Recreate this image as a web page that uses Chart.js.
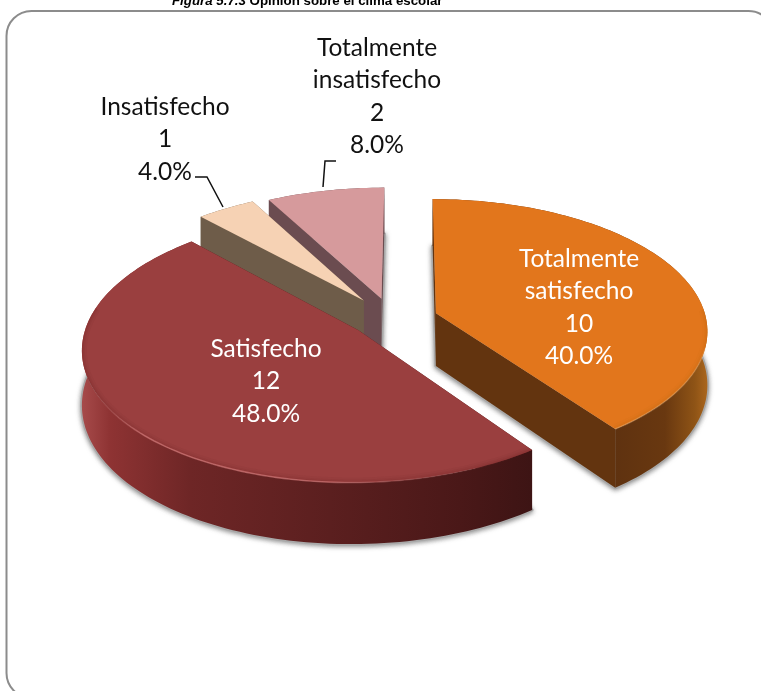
<!DOCTYPE html>
<html lang="es"><head><meta charset="utf-8">
<style>html,body{margin:0;padding:0;background:#fff;overflow:hidden}canvas{display:block}</style>
<script src="https://cdn.jsdelivr.net/npm/chart.js@4"></script>
</head><body><canvas id="c" width="761" height="691"></canvas>
<script>
const categories = ['Totalmente satisfecho','Satisfecho','Insatisfecho','Totalmente insatisfecho'];
const values = [10,12,1,2];
const sliceColors = ['#E2761C','#9A3F3F','#F6D2B4','#D69A9C'];
const labelLines = [['Totalmente','satisfecho'],['Satisfecho'],['Insatisfecho'],['Totalmente','insatisfecho']];

// --- styling / projection (not data)
const view = {dx:26.5, dy:-28, k:0.48, p:0.00047, depth:53};
const explode = [[29,9],[-48,-26],[-44,36],[-26,40]];
const labelAt = [[579,259,'#fff'],[266,349,'#fff'],[165,107,'#111'],[377,48,'#111']];
const lineH = 32.5;
const leaders = [null,null,[[195,177],[207,177],[223,207]],[[336,161],[325,161],[323,187]]];
const wallFlat = ['#63340F','#4a1818','#6E5C49','#6B4C50'];
const wallStops = [
 [[615,'#5F3210'],[665,'#693810'],[695,'#8F5416'],[712,'#B56D20']],
 [[80,'#A84C4C'],[110,'#8E3333'],[190,'#6E2626'],[330,'#5B1F1F'],[460,'#4A1818'],[533,'#3D1414']],
 [[190,'#6E5C49'],[370,'#6E5C49']],
 [[260,'#6B4C50'],[390,'#6B4C50']]
];
const drawOrder = [3,2,0,1];

const piePlugin = {
 id:'pie3d',
 beforeDraw(chart){
  const c = chart.ctx;
  c.save();
  c.strokeStyle='#8C8C8C'; c.lineWidth=2;
  c.beginPath(); c.roundRect(6.5,11,767,687,25); c.stroke();
  c.fillStyle='#000'; c.textBaseline='alphabetic'; c.textAlign='left';
  const t1='Figura 5.7.3', t2=' Opinión sobre el clima escolar';
  c.font='italic bold 13.3px "Liberation Sans"'; const w1=c.measureText(t1).width;
  c.fillText(t1,172,5);
  c.font='bold 13.3px "Liberation Sans"'; c.fillText(t2,172+w1,5);
  c.restore();
 },
 beforeDatasetsDraw(chart){
  const c = chart.ctx, arcs = chart.getDatasetMeta(0).data;
  const cx0 = arcs[0].x+view.dx, cy0 = arcs[0].y+view.dy;
  const proj = (X,Y,drop)=>{const w=1+view.p*Y; return [cx0+X/w, cy0-view.k*Y/w+(drop||0)/w];};
  const trace = (pts,open)=>{pts.forEach((q,j)=>j||open?c.lineTo(q[0],q[1]):c.moveTo(q[0],q[1]));};
  const total = values.reduce((a,b)=>a+b,0);

  drawOrder.forEach(i=>{
   const a = arcs[i], R = a.outerRadius, [ex,ey]=explode[i];
   const a0 = a.startAngle+Math.PI/2, a1 = a.endAngle+Math.PI/2;
   const N = Math.max(12,Math.round((a1-a0)*40));
   const plane = [];
   for(let j=0;j<=N;j++){const t=a0+(a1-a0)*j/N; plane.push([ex+R*Math.sin(t),ey+R*Math.cos(t)]);}
   const rimTop = plane.map(q=>proj(q[0],q[1],0));
   const rimBot = plane.map(q=>proj(q[0],q[1],view.depth));
   const tipTop = proj(ex,ey,0), tipBot = proj(ex,ey,view.depth);

   // soft ground shadow
   c.save();
   c.shadowColor='rgba(90,90,90,.65)'; c.shadowBlur=5; c.shadowOffsetY=1;
   c.fillStyle='#a8a8a8'; c.strokeStyle='#a8a8a8'; c.lineWidth=3; c.lineJoin='round';
   c.beginPath(); c.moveTo(tipBot[0],tipBot[1]); trace(rimBot,true); c.closePath(); c.fill(); c.stroke();
   c.restore();

   // radial walls
   c.fillStyle=wallFlat[i];
   [rimTop[0],rimTop[N]].forEach((e,n)=>{
     const eb = n? rimBot[N]:rimBot[0];
     c.beginPath(); c.moveTo(tipTop[0],tipTop[1]); c.lineTo(e[0],e[1]); c.lineTo(eb[0],eb[1]); c.lineTo(tipBot[0],tipBot[1]); c.closePath(); c.fill();
   });

   // curved outer wall
   const st = wallStops[i], x0=st[0][0], x1=st[st.length-1][0];
   const g = c.createLinearGradient(x0,0,x1,0);
   st.forEach(s=>g.addColorStop((s[0]-x0)/(x1-x0),s[1]));
   c.fillStyle=g;
   c.beginPath(); trace(rimTop); trace(rimBot.slice().reverse(),true); c.closePath(); c.fill();

   // top face
   c.fillStyle=a.options.backgroundColor;
   c.beginPath(); c.moveTo(tipTop[0],tipTop[1]); trace(rimTop,true); c.closePath(); c.fill();

   // bevel on the near part of the rim
   if(i<2){
     const near = rimTop.filter(q=>q[1]>cy0-10);
     c.save();
     c.beginPath(); c.moveTo(tipTop[0],tipTop[1]); trace(rimTop,true); c.closePath(); c.clip();
     [[10,.06],[6,.09],[3,.12]].forEach(b=>{
       c.globalAlpha=b[1]; c.lineWidth=b[0]; c.strokeStyle= i===1?'#6A2020':'#B8600F';
       c.beginPath(); trace(near); c.stroke();
     });
     c.restore();
     const gl = c.createLinearGradient(i===1?90:610,0,i===1?533:712,0);
     if(i===1){gl.addColorStop(0,'rgba(190,90,90,0)');gl.addColorStop(.12,'rgba(220,125,125,.6)');gl.addColorStop(.55,'rgba(220,125,125,.55)');gl.addColorStop(1,'rgba(120,50,50,0)');}
     else{gl.addColorStop(0,'rgba(255,200,140,.35)');gl.addColorStop(1,'rgba(255,200,140,.2)');}
     c.save();
     c.strokeStyle=gl; c.lineWidth=1.6;
     c.beginPath(); trace(rimTop.filter(q=>q[1]>cy0+30)); c.stroke();
     c.restore();
   }
  });

  // leader lines
  c.save(); c.strokeStyle='#111'; c.lineWidth=1.5;
  leaders.forEach(l=>{ if(!l) return; c.beginPath(); trace(l); c.stroke(); });
  c.restore();

  // labels
  c.save();
  c.textAlign='center'; c.textBaseline='middle'; c.font='24.5px Lato';
  arcs.forEach((a,i)=>{
    const lines = labelLines[i].concat([String(values[i]),(values[i]/total*100).toFixed(1)+'%']);
    const [x,y,col]=labelAt[i];
    c.fillStyle=col;
    lines.forEach((t,n)=>c.fillText(t,x,y+n*lineH));
  });
  c.restore();
  return false;
 }
};

new Chart(document.getElementById('c'),{
 type:'pie',
 data:{labels:categories,datasets:[{data:values,backgroundColor:sliceColors,borderWidth:0}]},
 options:{responsive:false,animation:false,radius:270,
  plugins:{legend:{display:false},tooltip:{enabled:false},title:{display:false}}},
 plugins:[piePlugin]
});
</script></body></html>
